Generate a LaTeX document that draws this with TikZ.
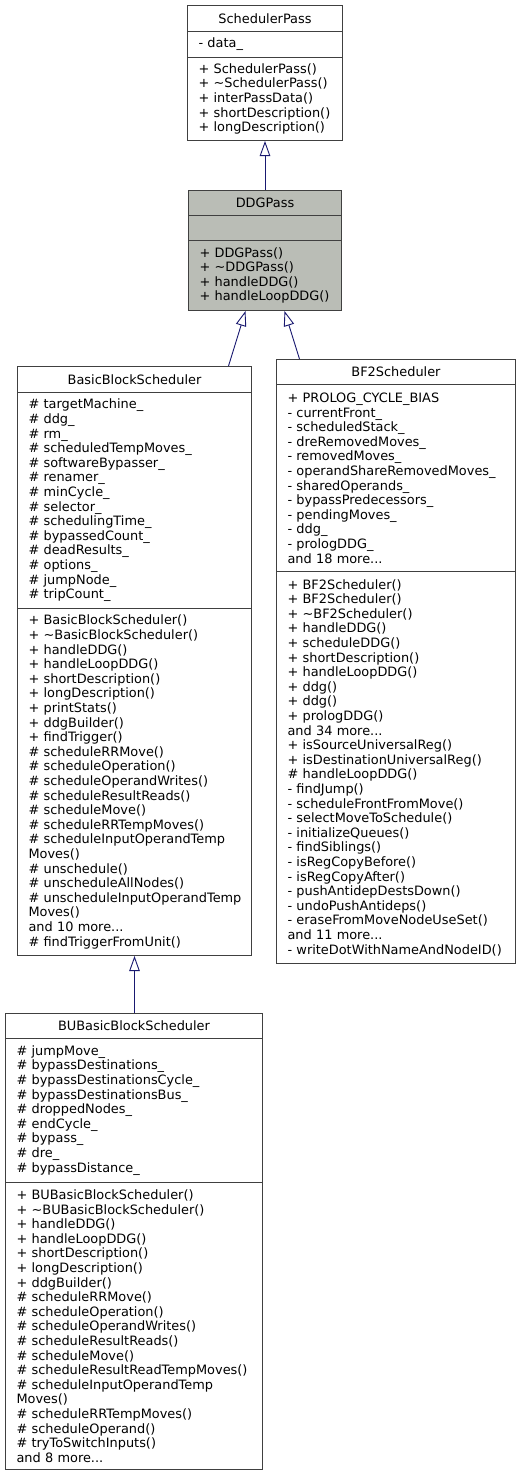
\documentclass[tikz,border=0pt]{standalone}
\usepackage{fontspec}
\setmainfont{DejaVu Sans}
\usetikzlibrary{arrows.meta}
\definecolor{boxc}{HTML}{404040}
\definecolor{edgec}{HTML}{191970}
\definecolor{hilite}{HTML}{BABDB6}
\tikzset{
  part/.style={draw=boxc, fill=white, line width=1pt, anchor=north west,
    inner xsep=11pt, inner ysep=0pt, align=left,
    font=\fontsize{12.9pt}{14.6pt}\selectfont},
  ttl/.style={part, align=center},
  inh/.style={draw=edgec, line width=0.9pt,
    -{Triangle[open, length=15pt, width=10.5pt, fill=white]}}
}
\newcommand{\tld}{\textasciitilde}
\begin{document}
\begin{tikzpicture}[x=1pt,y=-1pt]
\useasboundingbox[fill=white] (0,0) rectangle (520,1476);

% SchedulerPass
\node[ttl, minimum width=155pt, text width=133pt, minimum height=26pt] (spt) at (187,5) {SchedulerPass};
\node[part, minimum width=155pt, text width=133pt, minimum height=26pt] (spa) at (187,31) {- data\_};
\node[part, minimum width=155pt, text width=133pt, minimum height=83pt] (spm) at (187,57) {%
+ SchedulerPass()\\
+ \tld SchedulerPass()\\
+ interPassData()\\
+ shortDescription()\\
+ longDescription()};

% DDGPass
\node[ttl, fill=hilite, minimum width=153pt, text width=131pt, minimum height=25pt] (ddgt) at (188,190) {DDGPass};
\node[part, fill=hilite, minimum width=153pt, text width=131pt, minimum height=25pt] (ddga) at (188,215) {};
\node[part, fill=hilite, minimum width=153pt, text width=131pt, minimum height=70pt] (ddgm) at (188,240) {%
+ DDGPass()\\
+ \tld DDGPass()\\
+ handleDDG()\\
+ handleLoopDDG()};

% BasicBlockScheduler
\node[ttl, minimum width=234pt, text width=212pt, minimum height=26pt] (bbst) at (17,366) {BasicBlockScheduler};
\node[part, minimum width=234pt, text width=212pt, minimum height=216pt] (bbsa) at (17,392) {%
\# targetMachine\_\\
\# ddg\_\\
\# rm\_\\
\# scheduledTempMoves\_\\
\# softwareBypasser\_\\
\# renamer\_\\
\# minCycle\_\\
\# selector\_\\
\# schedulingTime\_\\
\# bypassedCount\_\\
\# deadResults\_\\
\# options\_\\
\# jumpNode\_\\
\# tripCount\_};
\node[part, minimum width=234pt, text width=212pt, minimum height=347pt] (bbsm) at (17,608) {%
+ BasicBlockScheduler()\\
+ \tld BasicBlockScheduler()\\
+ handleDDG()\\
+ handleLoopDDG()\\
+ shortDescription()\\
+ longDescription()\\
+ printStats()\\
+ ddgBuilder()\\
+ findTrigger()\\
\# scheduleRRMove()\\
\# scheduleOperation()\\
\# scheduleOperandWrites()\\
\# scheduleResultReads()\\
\# scheduleMove()\\
\# scheduleRRTempMoves()\\
\mbox{\# scheduleInputOperandTemp}\\
Moves()\\
\# unschedule()\\
\# unscheduleAllNodes()\\
\mbox{\# unscheduleInputOperandTemp}\\
Moves()\\
and 10 more...\\
\# findTriggerFromUnit()};

% BF2Scheduler
\node[ttl, minimum width=239pt, text width=217pt, minimum height=25pt] (bf2t) at (276,359) {BF2Scheduler};
\node[part, minimum width=239pt, text width=217pt, minimum height=187pt] (bf2a) at (276,384) {%
+ PROLOG\_CYCLE\_BIAS\\
- currentFront\_\\
- scheduledStack\_\\
- dreRemovedMoves\_\\
- removedMoves\_\\
- operandShareRemovedMoves\_\\
- sharedOperands\_\\
- bypassPredecessors\_\\
- pendingMoves\_\\
- ddg\_\\
- prologDDG\_\\
and 18 more...};
\node[part, minimum width=239pt, text width=217pt, minimum height=392pt] (bf2m) at (276,571) {%
+ BF2Scheduler()\\
+ BF2Scheduler()\\
+ \tld BF2Scheduler()\\
+ handleDDG()\\
+ scheduleDDG()\\
+ shortDescription()\\
+ handleLoopDDG()\\
+ ddg()\\
+ ddg()\\
+ prologDDG()\\
and 34 more...\\
+ isSourceUniversalReg()\\
+ isDestinationUniversalReg()\\
\# handleLoopDDG()\\
- findJump()\\
- scheduleFrontFromMove()\\
- selectMoveToSchedule()\\
- initializeQueues()\\
- findSiblings()\\
- isRegCopyBefore()\\
- isRegCopyAfter()\\
- pushAntidepDestsDown()\\
- undoPushAntideps()\\
- eraseFromMoveNodeUseSet()\\
and 11 more...\\
\mbox{- writeDotWithNameAndNodeID()}};

% BUBasicBlockScheduler
\node[ttl, minimum width=257pt, text width=235pt, minimum height=24.5pt] (bubt) at (5,1013) {BUBasicBlockScheduler};
\node[part, minimum width=257pt, text width=235pt, minimum height=144.5pt] (buba) at (5,1037.5) {%
\# jumpMove\_\\
\# bypassDestinations\_\\
\# bypassDestinationsCycle\_\\
\# bypassDestinationsBus\_\\
\# droppedNodes\_\\
\# endCycle\_\\
\# bypass\_\\
\# dre\_\\
\# bypassDistance\_};
\node[part, minimum width=257pt, text width=235pt, minimum height=287pt] (bubm) at (5,1182) {%
+ BUBasicBlockScheduler()\\
+ \tld BUBasicBlockScheduler()\\
+ handleDDG()\\
+ handleLoopDDG()\\
+ shortDescription()\\
+ longDescription()\\
+ ddgBuilder()\\
\# scheduleRRMove()\\
\# scheduleOperation()\\
\# scheduleOperandWrites()\\
\# scheduleResultReads()\\
\# scheduleMove()\\
\mbox{\# scheduleResultReadTempMoves()}\\
\mbox{\# scheduleInputOperandTemp}\\
Moves()\\
\# scheduleRRTempMoves()\\
\# scheduleOperand()\\
\# tryToSwitchInputs()\\
and 8 more...};

% inheritance
\draw[inh] (ddgt.north) -- (spm.south);
\draw[inh] ([xshift=94pt]bbst.north) -- ([xshift=-19.5pt]ddgm.south);
\draw[inh] ([xshift=-96.5pt]bf2t.north) -- ([xshift=19.5pt]ddgm.south);
\draw[inh] ([xshift=0.5pt]bubt.north) -- (bbsm.south);
\end{tikzpicture}
\end{document}
